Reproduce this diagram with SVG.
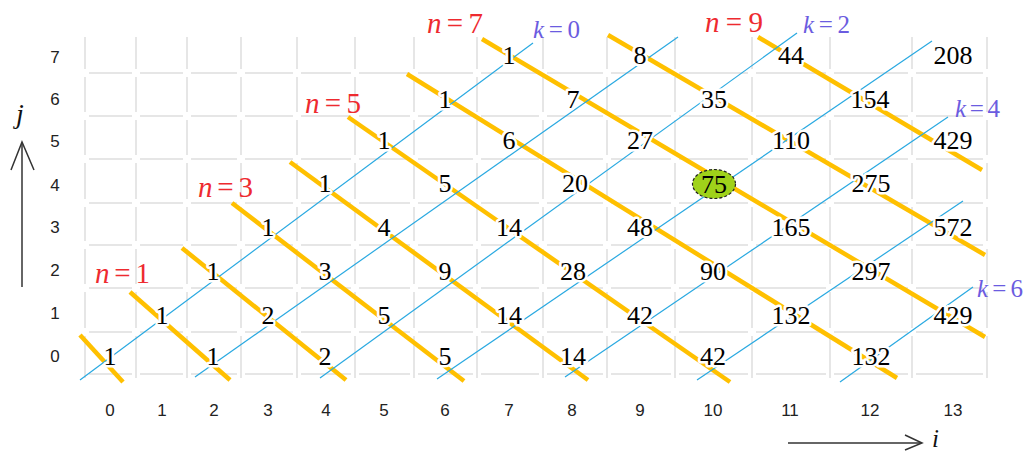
<svg xmlns="http://www.w3.org/2000/svg" xmlns:xlink="http://www.w3.org/1999/xlink" width="1025" height="452" viewBox="0 0 1025 452">
<style>
.grid{stroke:#dedede;stroke-width:1.5;fill:none}
.yl{stroke:#ffc000;stroke-width:4.5;fill:none}
.bl{stroke:#29a9e1;stroke-width:1.2;fill:none}
.ax{font-family:"Liberation Sans",Arial,sans-serif;font-size:17px;fill:#222;text-anchor:middle}
.num{font-family:"Liberation Serif","Times New Roman",serif;font-size:26px;fill:#000;text-anchor:middle;stroke:#fff;stroke-width:5;stroke-linejoin:round;paint-order:stroke}
.nl{font-family:"Liberation Serif","Times New Roman",serif;font-size:29px;fill:#ee2a2f}
.kl{font-family:"Liberation Serif","Times New Roman",serif;font-size:25px;fill:#6b5ce0}
.it{font-style:italic}
.arr{stroke:#333;stroke-width:1.5;fill:none}
</style>
<defs>
<path id="hrow" d="M89 0H132M140 0H183M191 0H237M245 0H293M301 0H351M359 0H410M418 0H473M481 0H539M547 0H603M611 0H671M679 0H748M756 0H826M834 0H908M916 0H983"/>
<path id="vcol" d="M0 37V69M0 77V112M0 120V155M0 163V199M0 207V241M0 249V284M0 292V328M0 336V378"/>
</defs>
<g id="grid" class="grid">
<use xlink:href="#hrow" y="73"/><use xlink:href="#hrow" y="116"/><use xlink:href="#hrow" y="159"/><use xlink:href="#hrow" y="203"/>
<use xlink:href="#hrow" y="245"/><use xlink:href="#hrow" y="288"/><use xlink:href="#hrow" y="332"/><use xlink:href="#hrow" y="374"/>
<use xlink:href="#vcol" x="85"/><use xlink:href="#vcol" x="136"/><use xlink:href="#vcol" x="187"/><use xlink:href="#vcol" x="241"/>
<use xlink:href="#vcol" x="297"/><use xlink:href="#vcol" x="355"/><use xlink:href="#vcol" x="414"/><use xlink:href="#vcol" x="477"/>
<use xlink:href="#vcol" x="543"/><use xlink:href="#vcol" x="607"/><use xlink:href="#vcol" x="675"/><use xlink:href="#vcol" x="752"/>
<use xlink:href="#vcol" x="830"/><use xlink:href="#vcol" x="912"/><use xlink:href="#vcol" x="987"/>
</g>
<g id="axis-labels" class="ax">
<text x="110" y="416">0</text><text x="162" y="416">1</text><text x="214" y="416">2</text><text x="268" y="416">3</text>
<text x="326" y="416">4</text><text x="384" y="416">5</text><text x="445" y="416">6</text><text x="509" y="416">7</text>
<text x="572" y="416">8</text><text x="640" y="416">9</text><text x="713" y="416">10</text><text x="790" y="416">11</text>
<text x="870" y="416">12</text><text x="953" y="416">13</text>
<text x="55" y="362">0</text><text x="55" y="319">1</text><text x="55" y="276">2</text><text x="55" y="233">3</text>
<text x="55" y="191">4</text><text x="55" y="147">5</text><text x="55" y="105">6</text><text x="55" y="63">7</text>
</g>
<g id="connectors">
<g id="n-lines" class="yl">
<line x1="80" y1="335" x2="123" y2="382"/>
<line x1="130" y1="292" x2="230" y2="380"/>
<line x1="182" y1="248" x2="346" y2="380"/>
<line x1="232" y1="203" x2="464" y2="381"/>
<line x1="290" y1="162" x2="588" y2="380"/>
<line x1="348" y1="117" x2="730" y2="382"/>
<line x1="407" y1="74" x2="897" y2="378"/>
<line x1="482" y1="39" x2="985" y2="337"/>
<line x1="608" y1="35" x2="985" y2="255"/>
<line x1="758" y1="37" x2="982" y2="170"/>
</g>
<g id="k-lines" class="bl">
<line x1="80" y1="380" x2="533" y2="43"/>
<line x1="195" y1="377" x2="678" y2="37"/>
<line x1="320" y1="378" x2="797" y2="33"/>
<line x1="437" y1="379" x2="932" y2="41"/>
<line x1="565" y1="377" x2="948" y2="117"/>
<line x1="697" y1="380" x2="963" y2="201"/>
<line x1="840" y1="382" x2="973" y2="287"/>
</g>
<g id="axes" class="arr">
<line x1="22" y1="287" x2="22" y2="143"/>
<polyline points="11,170 22,142 34,170"/>
<line x1="788" y1="443" x2="921" y2="443"/>
<polyline points="905,435 922,443 905,450"/>
</g>
</g>
<g id="numbers" class="num">
<g id="c0-0"><text x="110" y="365">1</text></g>
<g id="c2-0"><text x="213" y="365">1</text></g>
<g id="c4-0"><text x="325" y="365">2</text></g>
<g id="c6-0"><text x="445" y="365">5</text></g>
<g id="c8-0"><text x="573" y="365">14</text></g>
<g id="c10-0"><text x="713" y="365">42</text></g>
<g id="c12-0"><text x="871" y="365">132</text></g>
<g id="c1-1"><text x="162" y="324">1</text></g>
<g id="c3-1"><text x="268" y="324">2</text></g>
<g id="c5-1"><text x="384" y="324">5</text></g>
<g id="c7-1"><text x="509" y="324">14</text></g>
<g id="c9-1"><text x="640" y="324">42</text></g>
<g id="c11-1"><text x="791" y="324">132</text></g>
<g id="c13-1"><text x="953" y="324">429</text></g>
<g id="c2-2"><text x="213" y="280">1</text></g>
<g id="c4-2"><text x="325" y="280">3</text></g>
<g id="c6-2"><text x="445" y="280">9</text></g>
<g id="c8-2"><text x="573" y="280">28</text></g>
<g id="c10-2"><text x="713" y="280">90</text></g>
<g id="c12-2"><text x="871" y="280">297</text></g>
<g id="c3-3"><text x="268" y="236">1</text></g>
<g id="c5-3"><text x="384" y="236">4</text></g>
<g id="c7-3"><text x="509" y="236">14</text></g>
<g id="c9-3"><text x="640" y="236">48</text></g>
<g id="c11-3"><text x="791" y="236">165</text></g>
<g id="c13-3"><text x="953" y="236">572</text></g>
<g id="c4-4"><text x="325" y="192">1</text></g>
<g id="c6-4"><text x="445" y="192">5</text></g>
<g id="c8-4"><text x="575" y="192">20</text></g>
<g id="c12-4"><text x="871" y="192">275</text></g>
<g id="c5-5"><text x="384" y="149">1</text></g>
<g id="c7-5"><text x="509" y="149">6</text></g>
<g id="c9-5"><text x="640" y="149">27</text></g>
<g id="c11-5"><text x="791" y="149">110</text></g>
<g id="c13-5"><text x="953" y="149">429</text></g>
<g id="c6-6"><text x="445" y="108">1</text></g>
<g id="c8-6"><text x="573" y="108">7</text></g>
<g id="c10-6"><text x="714" y="108">35</text></g>
<g id="c12-6"><text x="870" y="108">154</text></g>
<g id="c7-7"><text x="509" y="64">1</text></g>
<g id="c9-7"><text x="640" y="64">8</text></g>
<g id="c11-7"><text x="791" y="64">44</text></g>
<g id="c13-7"><text x="953" y="64">208</text></g>
</g>
<g id="c10-4">
<ellipse cx="714" cy="184" rx="21.5" ry="14.5" fill="#9fd21a" stroke="#222" stroke-width="1.2" stroke-dasharray="3 2"/>
<text x="714" y="193" font-family="Liberation Serif, Times New Roman, serif" font-size="26" text-anchor="middle" fill="#000">75</text>
</g>
<g id="n-labels" class="nl">
<text x="95" y="283" textLength="55" lengthAdjust="spacing"><tspan class="it">n</tspan>=1</text>
<text x="198" y="197" textLength="55" lengthAdjust="spacing"><tspan class="it">n</tspan>=3</text>
<text x="305" y="113" textLength="56" lengthAdjust="spacing"><tspan class="it">n</tspan>=5</text>
<text x="427" y="33" textLength="56" lengthAdjust="spacing"><tspan class="it">n</tspan>=7</text>
<text x="705" y="32" textLength="58" lengthAdjust="spacing"><tspan class="it">n</tspan>=9</text>
</g>
<g id="k-labels" class="kl">
<text x="533" y="38" textLength="47" lengthAdjust="spacing"><tspan class="it">k</tspan>=0</text>
<text x="803" y="33" textLength="47" lengthAdjust="spacing"><tspan class="it">k</tspan>=2</text>
<text x="955" y="117" textLength="45" lengthAdjust="spacing"><tspan class="it">k</tspan>=4</text>
<text x="977" y="297" textLength="46" lengthAdjust="spacing"><tspan class="it">k</tspan>=6</text>
</g>
<g id="axis-names" font-family="Liberation Serif, Times New Roman, serif" font-style="italic" fill="#111">
<text x="16" y="123" font-size="28">j</text>
<text x="932" y="447" font-size="25">i</text>
</g>
</svg>
